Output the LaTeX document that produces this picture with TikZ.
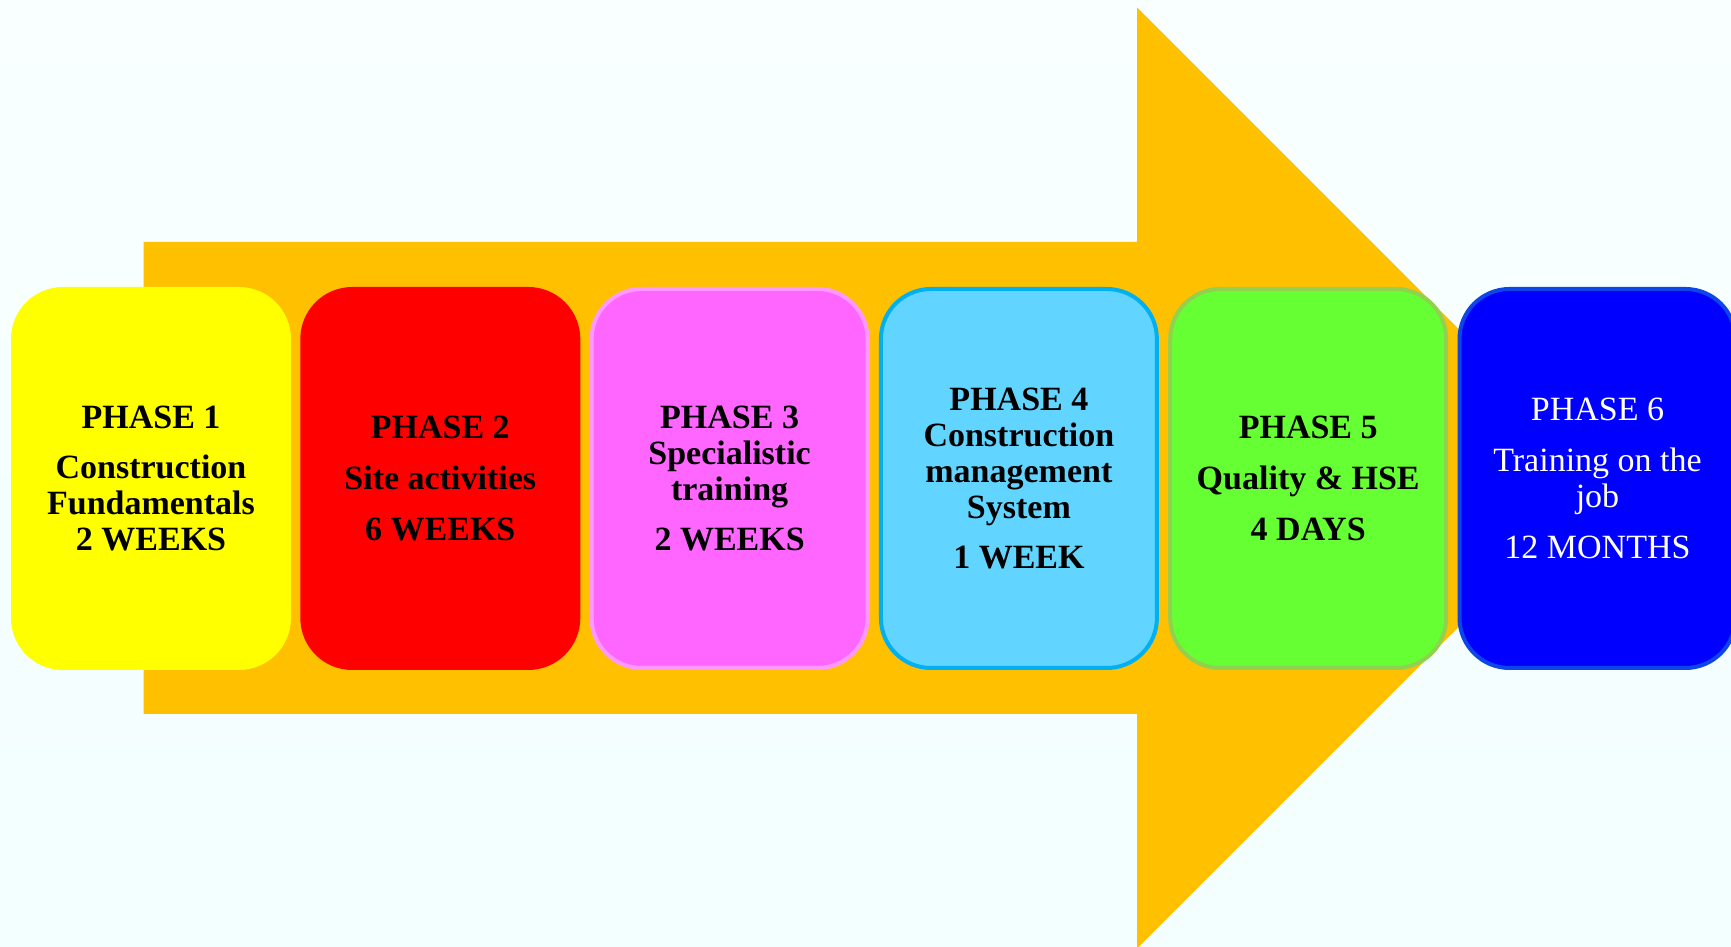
\documentclass[tikz,border=0pt]{standalone}
\usepackage{fontspec}
\setmainfont{Liberation Serif}
\usepackage{xcolor}
\definecolor{cArrow}{HTML}{FFC000}
\definecolor{cBgTop}{HTML}{F9FFFF}
\definecolor{cBgBot}{HTML}{F2FEFF}
\definecolor{cYellow}{HTML}{FFFF00}
\definecolor{cRed}{HTML}{FF0000}
\definecolor{cPink}{HTML}{FF66FF}
\definecolor{cPinkLine}{HTML}{FF99FF}
\definecolor{cSky}{HTML}{61D5FF}
\definecolor{cSkyLine}{HTML}{00B0F0}
\definecolor{cLime}{HTML}{66FF33}
\definecolor{cLimeLine}{HTML}{92D050}
\definecolor{cBlue}{HTML}{0000FF}
\definecolor{cBlueLine}{HTML}{0D45E8}
\usepackage{tikz}
\usetikzlibrary{positioning}
\tikzset{
  phase-box/.style={rounded corners=25pt,line width=2pt,outer sep=0pt,
    minimum width=138pt,minimum height=189.5pt,align=center,
    font=\fontsize{17}{18}\selectfont\bfseries},
  phase-1/.style={draw=cYellow,fill=cYellow},
  phase-2/.style={draw=cRed,fill=cRed},
  phase-3/.style={draw=cPinkLine,fill=cPink},
  phase-4/.style={draw=cSkyLine,fill=cSky},
  phase-5/.style={draw=cLimeLine,fill=cLime},
  % last phase: plain weight, white text
  phase-6/.style={draw=cBlueLine,fill=cBlue,text=white,
    font=\fontsize{17}{18}\selectfont\mdseries},
  big-arrow/.style={fill=cArrow},
}

\begin{document}
\begin{tikzpicture}[x=0.5pt,y=0.5pt,node distance=6.65pt]
  \useasboundingbox (0,0) rectangle (1731,947);
  \fill[top color=cBgTop,bottom color=cBgBot] (0,0) rectangle (1731,947);

  % the arrow behind the phases
  \fill[big-arrow] (143.5,705) -- (1137,705) -- (1137,939.5) -- (1607.5,469)
    -- (1137,-1.5) -- (1137,233) -- (143.5,233) -- cycle;

  \node[phase-box,phase-1] (p1) at (151,468.5)
    {PHASE 1\\[7.4pt]Construction\\Fundamentals\\2 WEEKS};
  \node[phase-box,phase-2,right=of p1] (p2)
    {PHASE 2\\[7.4pt]Site activities\\[7.4pt]6 WEEKS};
  \node[phase-box,phase-3,right=of p2] (p3)
    {PHASE 3\\Specialistic\\training\\[7.4pt]2 WEEKS};
  \node[phase-box,phase-4,right=of p3] (p4)
    {PHASE 4\\Construction\\management\\System\\[7.4pt]1 WEEK};
  \node[phase-box,phase-5,right=of p4] (p5)
    {PHASE 5\\[7.4pt]Quality \& HSE\\[7.4pt]4 DAYS};
  \node[phase-box,phase-6,right=of p5] (p6)
    {PHASE 6\\[7.4pt]Training on the\\job\\[7.4pt]12 MONTHS};
\end{tikzpicture}
\end{document}
